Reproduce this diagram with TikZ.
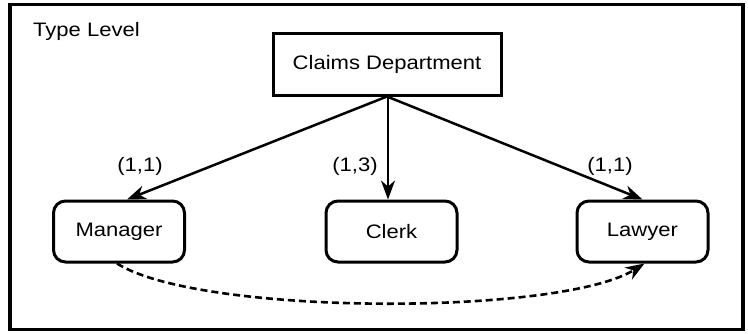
\documentclass[tikz,border=0pt]{standalone}
\usepackage{fontspec}
\setmainfont{Liberation Sans}[FakeStretch=1.13]
\usetikzlibrary{arrows.meta}
\tikzset{
  txt/.style={font=\fontsize{19.5}{22}\selectfont, inner sep=0pt},
  entbox/.style={draw, line width=3pt, minimum width=228pt, minimum height=62pt, font=\fontsize{19.5}{22}\selectfont},
  rolebox/.style={draw, line width=3pt, rounded corners=12pt, minimum width=131pt, minimum height=61pt, font=\fontsize{19.5}{22}\selectfont},
  rel/.style={line width=2.5pt, -{Stealth[length=19pt, width=14pt, inset=6pt]}},
  dep/.style={line width=2.6pt, dash pattern=on 7pt off 4pt, -{Stealth[length=19pt, width=14pt, inset=6pt]}}
}
\begin{document}
\begin{tikzpicture}[x=1pt, y=-1pt]
\useasboundingbox (0,0) rectangle (748,333);
\fill[white] (0,0) rectangle (748,333);
\node[draw, line width=3.5pt, minimum width=733pt, minimum height=325pt, inner sep=0pt] (frame) at (376.5,167) {};
\node[txt, anchor=west] (lvl) at (33,31) {Type Level};
\node[entbox] (cd) at (387,64) {Claims Department};
\node[rolebox] (mgr) at (119,231.5) {Manager};
\node[rolebox] (clerk) at (391.5,231.5) {Clerk};
\node[rolebox] (lawyer) at (642.5,231.5) {Lawyer};
\draw[rel] (cd.south) -- ([xshift=8pt]mgr.north);
\draw[rel] ([xshift=1pt]cd.south) -- ([xshift=1pt]cd.south |- clerk.north);
\draw[rel] (cd.south) -- (lawyer.north);
\node[txt] (l1) at (140,166) {(1,1)};
\node[txt] (l2) at (355,166) {(1,3)};
\node[txt] (l3) at (610,166) {(1,1)};
\draw[dep] ([xshift=-2pt]mgr.south) .. controls (200,316) and (560,316) .. ([xshift=2pt]lawyer.south);
\end{tikzpicture}
\end{document}
